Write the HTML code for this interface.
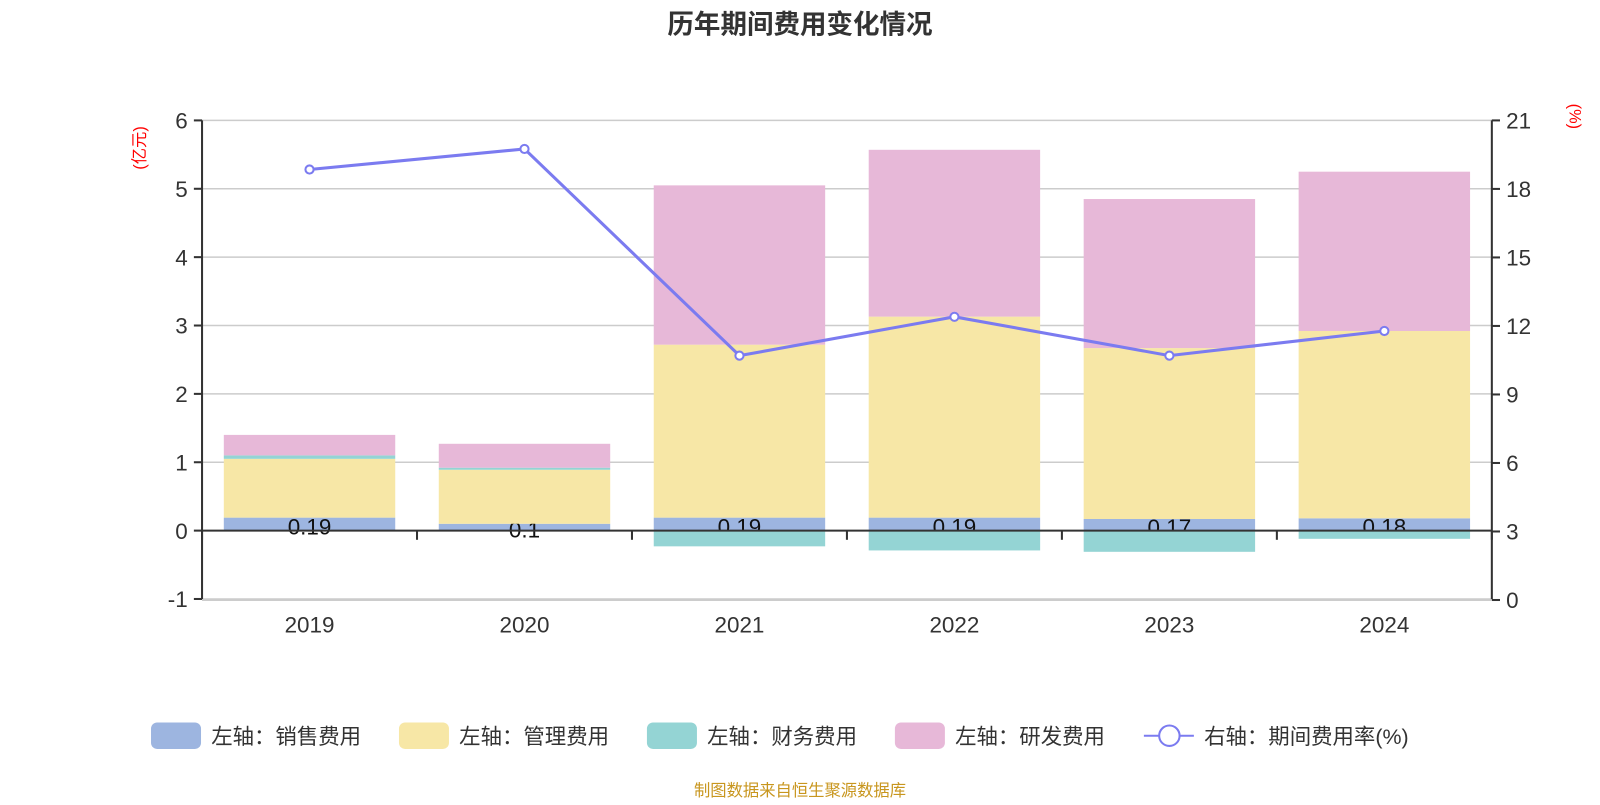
<!DOCTYPE html>
<html><head><meta charset="utf-8"><style>
body{margin:0;background:#fff;}
svg text{font-family:"Liberation Sans","Noto Sans CJK SC",sans-serif;}
</style></head><body>
<svg id="c" width="1600" height="800" viewBox="0 0 1568 784" xmlns="http://www.w3.org/2000/svg">
<text x="784" y="33" text-anchor="middle" font-size="26" font-weight="bold" fill="#333">历年期间费用变化情况</text>
<text transform="translate(142,145) rotate(-90)" text-anchor="middle" font-size="16" fill="#f00">(亿元)</text>
<text transform="translate(1538,114) rotate(90)" text-anchor="middle" font-size="16" fill="#f00">(%)</text>
<g id="grid"></g><g id="bars"></g><g id="axes"></g><g id="line"></g>
<g id="legend" font-size="21" fill="#333">
<rect x="148" y="708" width="49" height="26" rx="6" fill="#9db5e0"/>
<text x="207" y="729">左轴：销售费用</text>
<rect x="391" y="708" width="49" height="26" rx="6" fill="#f7e7a6"/>
<text x="450" y="729">左轴：管理费用</text>
<rect x="634" y="708" width="49" height="26" rx="6" fill="#94d4d4"/>
<text x="693" y="729">左轴：财务费用</text>
<rect x="877" y="708" width="49" height="26" rx="6" fill="#e7b8d8"/>
<text x="936" y="729">左轴：研发费用</text>
<line x1="1121" y1="721" x2="1170" y2="721" stroke="#7b7bf0" stroke-width="2"/>
<circle cx="1146" cy="721" r="10" fill="#fff" stroke="#7b7bf0" stroke-width="2"/>
<text x="1180" y="729">右轴：期间费用率(%)</text>
</g>
<text x="784" y="780" text-anchor="middle" font-size="16" fill="#c8961e">制图数据来自恒生聚源数据库</text>
</svg>
<script>
const years=['2019','2020','2021','2022','2023','2024'];
const sales=[0.19,0.1,0.19,0.19,0.17,0.18];
const admin=[0.86,0.79,2.53,2.94,2.50,2.74];
const finance=[0.05,0.03,-0.23,-0.29,-0.31,-0.12];
const rd=[0.30,0.35,2.33,2.44,2.18,2.33];
const rate=[18.85,19.75,10.7,12.4,10.7,11.78];
const leftTicks=[-1,0,1,2,3,4,5,6];
const rightTicks=[0,3,6,9,12,15,18,21];
const NS='http://www.w3.org/2000/svg';
const X0=198,X1=1462,TOP=118,BOT=588;
const yL=v=>520-(v)*(520-TOP)/6;
const yR=v=>BOT-v*(BOT-TOP)/21;
const band=(X1-X0)/years.length;
const xc=i=>X0+band*(i+0.5);
function mk(tag,attrs,parent){const e=document.createElementNS(NS,tag);for(const k in attrs)e.setAttribute(k,attrs[k]);document.getElementById(parent).appendChild(e);return e;}
leftTicks.forEach(t=>{
  if(t!==0){const g=mk('line',{x1:X0,x2:X1,y1:yL(t),y2:yL(t),stroke:'#ccc','stroke-width':1.5},'grid');
  
  }
  const tk=mk('line',{x1:X0-8,x2:X0,y1:yL(t),y2:yL(t),stroke:'#333','stroke-width':2},'axes');
  
  
  const tx=mk('text',{x:X0-14,y:yL(t)+8,'text-anchor':'end','font-size':22,fill:'#333'},'axes');
  tx.textContent=t;
  
  
});
rightTicks.forEach(t=>{
  const tk=mk('line',{x1:X1,x2:X1+8,y1:yR(t),y2:yR(t),stroke:'#333','stroke-width':2},'axes');
  
  
  const tx=mk('text',{x:X1+14,y:yR(t)+8,'font-size':22,fill:'#333'},'axes');
  tx.textContent=t;
  
  
});
const bw=168;
function bar(i,a,b,col,name){
  const y1=yL(Math.max(a,b)),y2=yL(Math.min(a,b));
  const r=mk('rect',{x:xc(i)-bw/2,y:y1,width:bw,height:y2-y1,fill:col},'bars');
  
  
}
years.forEach((y,i)=>{
  bar(i,0,sales[i],'#9db5e0','bar-sales-'+y);
  const tx=mk('text',{x:xc(i),y:yL(sales[i]/2)+10,'text-anchor':'middle','font-size':22,fill:'#111'},'bars');
  tx.textContent=sales[i];
  
  
});
years.forEach((y,i)=>{
  let top=sales[i];
  bar(i,top,top+admin[i],'#f7e7a6','bar-admin-'+y);top+=admin[i];
  if(finance[i]>=0){bar(i,top,top+finance[i],'#94d4d4','bar-finance-'+y);top+=finance[i];}
  else bar(i,0,finance[i],'#94d4d4','bar-finance-'+y);
  bar(i,top,top+rd[i],'#e7b8d8','bar-rd-'+y);
});
[[X0,TOP,X0,BOT,'#333'],[X1,TOP,X1,BOT,'#333'],[X0,BOT,X1,BOT,'#ccc'],[X0,520,X1,520,'#333']].forEach(a=>{
  const l=mk('line',{x1:a[0],y1:a[1],x2:a[2],y2:a[3],stroke:a[4],'stroke-width':2},'axes');
  
  
});
for(let i=0;i<=years.length;i++){
  const l=mk('line',{x1:X0+band*i,x2:X0+band*i,y1:520,y2:529,stroke:'#333','stroke-width':2},'axes');
  
  
}
years.forEach((y,i)=>{
  const tx=mk('text',{x:xc(i),y:620,'text-anchor':'middle','font-size':22,fill:'#333'},'axes');
  tx.textContent=y;
  
  
});
const pts=rate.map((v,i)=>xc(i)+','+yR(v)).join(' ');
const pl=mk('polyline',{points:pts,fill:'none',stroke:'#7b7bf0','stroke-width':3},'line');


rate.forEach((v,i)=>{
  const c=mk('circle',{cx:xc(i),cy:yR(v),r:4,fill:'#fff',stroke:'#7b7bf0','stroke-width':2},'line');
  
  
});
</script>
</body></html>
